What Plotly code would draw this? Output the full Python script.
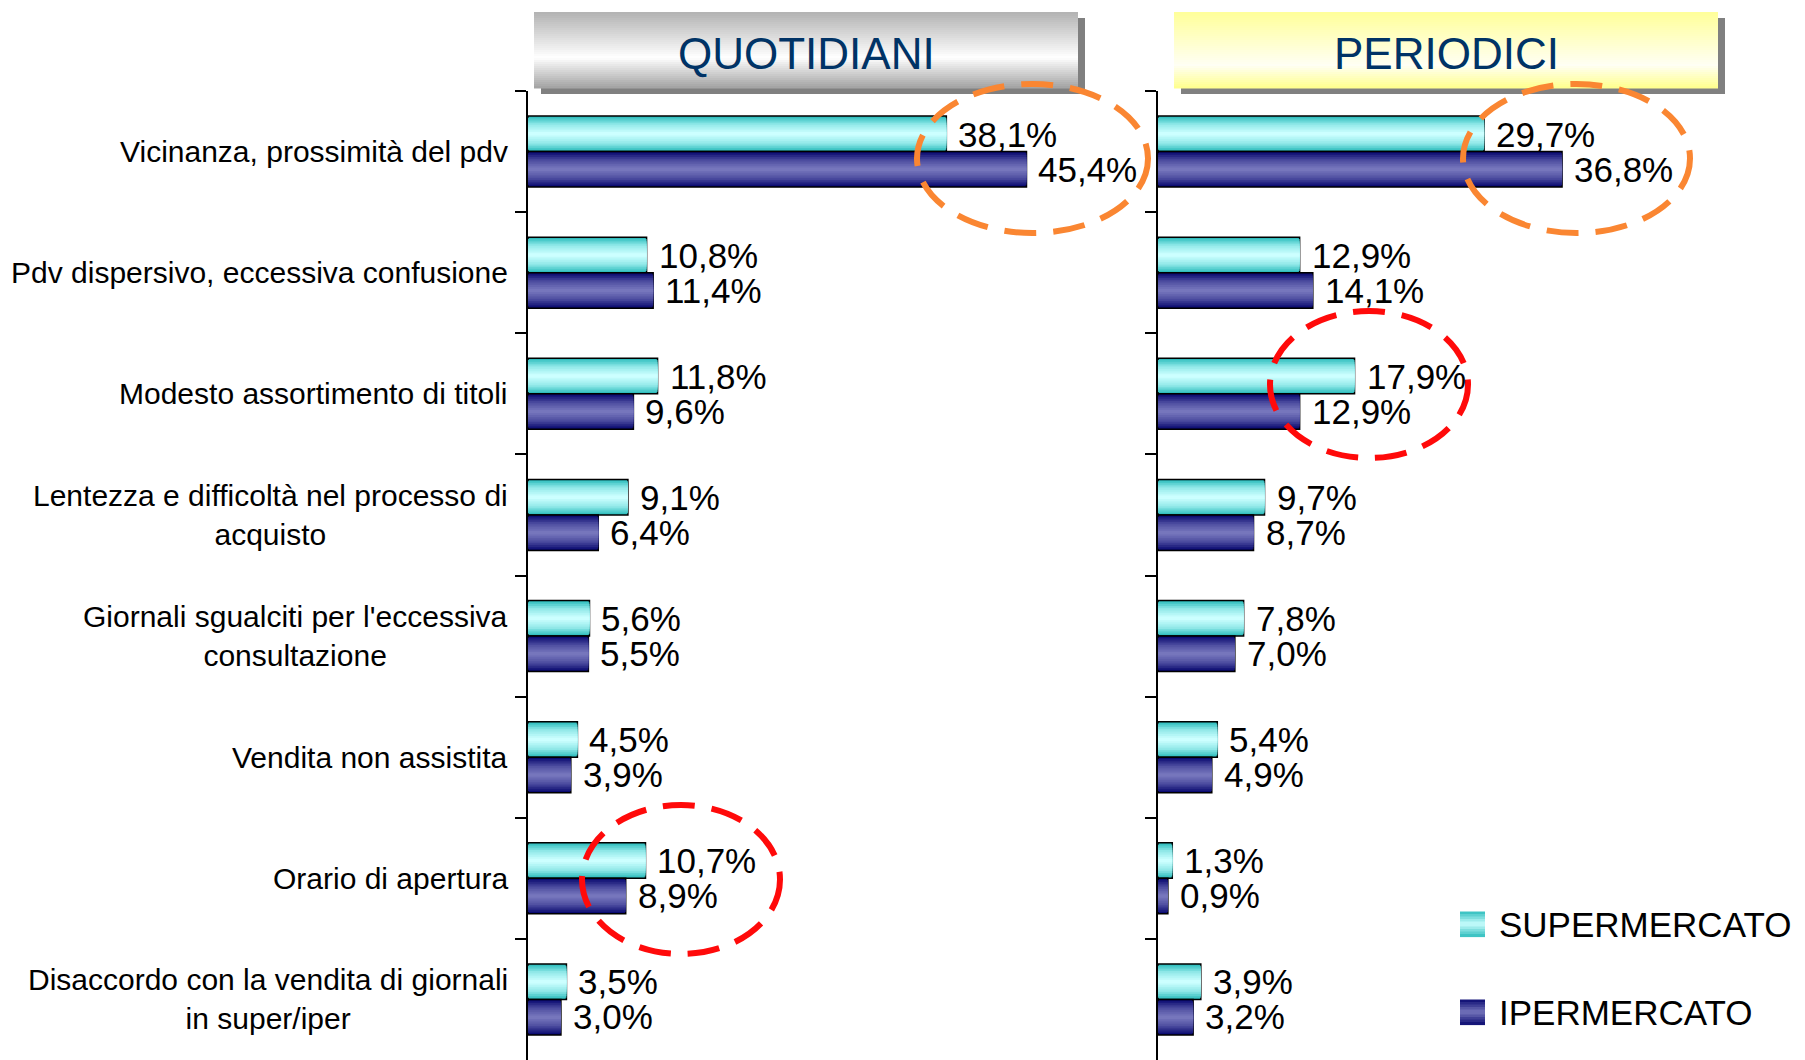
import plotly.graph_objects as go

# ---- data ----
categories = [
    "Vicinanza, prossimità del pdv",
    "Pdv dispersivo, eccessiva confusione",
    "Modesto assortimento di titoli",
    "Lentezza e difficoltà nel processo di<br>acquisto",
    "Giornali sgualciti per l'eccessiva<br>consultazione",
    "Vendita non assistita",
    "Orario di apertura",
    "Disaccordo con la vendita di giornali<br>in super/iper",
]
series_names = ["SUPERMERCATO", "IPERMERCATO"]
panel_titles = ["QUOTIDIANI", "PERIODICI"]

quotidiani_super = [38.1, 10.8, 11.8, 9.1, 5.6, 4.5, 10.7, 3.5]
quotidiani_iper = [45.4, 11.4, 9.6, 6.4, 5.5, 3.9, 8.9, 3.0]
periodici_super = [29.7, 12.9, 17.9, 9.7, 7.8, 5.4, 1.3, 3.9]
periodici_iper = [36.8, 14.1, 12.9, 8.7, 7.0, 4.9, 0.9, 3.2]

# ---- canvas geometry (pixels) ----
W, H = 1805, 1060
PX_PER_PCT = 10.98
LEFT_X0, LEFT_X1 = 528, 1150
RIGHT_X0, RIGHT_X1 = 1158, 1805
PLOT_TOP = 91

FONT = "Liberation Sans, Arial, sans-serif"


def px(x):
    return x / W


def py(y):
    return 1 - y / H


def hex_to_rgb(h):
    h = h.lstrip("#")
    return tuple(int(h[i:i + 2], 16) for i in (0, 2, 4))


def ramp(stops, t):
    for (p0, c0), (p1, c1) in zip(stops, stops[1:]):
        if t <= p1:
            f = 0 if p1 == p0 else (t - p0) / (p1 - p0)
            a, b = hex_to_rgb(c0), hex_to_rgb(c1)
            r = [round(a[i] + (b[i] - a[i]) * f) for i in range(3)]
            return "rgb(%d,%d,%d)" % tuple(r)
    return "rgb(%d,%d,%d)" % hex_to_rgb(stops[-1][1])


# bar shading: edge -> centre
CYAN_RAMP = [(0.0, "#2FBDBD"), (0.45, "#8FE8E8"), (1.0, "#CCFFFF")]
BLUE_RAMP = [(0.0, "#0A0A70"), (0.5, "#4E4EA0"), (1.0, "#7676BC")]
GRAY_RAMP = [(0.0, "#B2B2B2"), (0.6, "#FFFFFF"), (1.0, "#A2A2A2")]
YELLOW_RAMP = [(0.0, "#FFFF99"), (0.7, "#FFFFF4"), (1.0, "#FFFF8C")]

BAR_W = 0.293
N_LAYERS = 10

fig = go.Figure()

panels = [
    ("x", "y", quotidiani_super, quotidiani_iper),
    ("x2", "y2", periodici_super, periodici_iper),
]

annotations = []
shapes = []

for xa, ya, sup, ipr in panels:
    for s_idx, (vals, rmp) in enumerate([(sup, CYAN_RAMP), (ipr, BLUE_RAMP)]):
        centre = -BAR_W / 2 if s_idx == 0 else BAR_W / 2
        for k in range(N_LAYERS):
            frac = 1 - k / N_LAYERS
            w = BAR_W * frac
            t = k / (N_LAYERS - 1)
            fig.add_trace(go.Bar(
                x=vals, y=categories, orientation="h",
                width=w, offset=centre - w / 2,
                marker=dict(color=ramp(rmp, t),
                            line=dict(color="black", width=1.5 if k == 0 else 0)),
                name=series_names[s_idx], showlegend=False,
                hoverinfo="x+name" if k == 0 else "skip",
                xaxis=xa, yaxis=ya,
            ))
        for i, v in enumerate(vals):
            annotations.append(dict(
                x=v, y=i, xref=xa, yref=ya, xanchor="left", yanchor="middle",
                xshift=10, yshift=17.5 if s_idx == 0 else -17.5,
                text=("%.1f%%" % v).replace(".", ","), showarrow=False,
                font=dict(family=FONT, size=35, color="black"),
            ))

# category labels, centred lines, right-aligned block
for i, c in enumerate(categories):
    annotations.append(dict(
        x=px(510), y=i, xref="paper", yref="y", xanchor="right", yanchor="middle",
        text=c, align="center", showarrow=False,
        font=dict(family=FONT, size=30, color="black"),
    ))


def gradient_rect(x0, y0, x1, y1, stops, n):
    step = (y1 - y0) / n
    for j in range(n):
        t = (j + 0.5) / n
        shapes.append(dict(
            type="rect", xref="paper", yref="paper",
            x0=px(x0), x1=px(x1), y0=py(y0 + j * step), y1=py(y0 + (j + 1) * step + 0.6),
            fillcolor=ramp(stops, t), line=dict(width=0),
        ))


# panel headers
headers = [
    (534, 1078, GRAY_RAMP, panel_titles[0]),
    (1174, 1718, YELLOW_RAMP, panel_titles[1]),
]
for hx0, hx1, rmp, title in headers:
    shapes.append(dict(type="rect", xref="paper", yref="paper",
                       x0=px(hx0 + 7), x1=px(hx1 + 7), y0=py(18), y1=py(94),
                       fillcolor="#808080", line=dict(width=0)))
    gradient_rect(hx0, 12, hx1, 88, rmp, 38)
    annotations.append(dict(
        x=px((hx0 + hx1) / 2), y=py(53), xref="paper", yref="paper",
        xanchor="center", yanchor="middle", text=title, showarrow=False,
        font=dict(family=FONT, size=44, color="#003366"),
    ))

# highlight ellipses
ellipses = [
    (917, 84, 1148, 233, "#FA8632"),
    (1463, 84, 1690, 233, "#FA8632"),
    (1270, 311, 1468, 458, "#FF0A0A"),
    (582, 805, 780, 954, "#FF0A0A"),
]
for ex0, ey0, ex1, ey1, col in ellipses:
    shapes.append(dict(type="circle", xref="paper", yref="paper",
                       x0=px(ex0), x1=px(ex1), y0=py(ey1), y1=py(ey0),
                       line=dict(color=col, width=6, dash="32px,17px")))

# legend
legend_rows = [(924, CYAN_RAMP), (1012, BLUE_RAMP)]
for (cy, rmp), name in zip(legend_rows, series_names):
    sym = [(0.0, rmp[0][1]), (0.5, rmp[-1][1]), (1.0, rmp[0][1])]
    gradient_rect(1460, cy - 12.5, 1485, cy + 12.5, sym, 10)
    annotations.append(dict(
        x=px(1497), y=py(cy), xref="paper", yref="paper",
        xanchor="left", yanchor="middle", text=name, showarrow=False,
        font=dict(family=FONT, size=35, color="black"),
    ))

yaxis_style = dict(
    type="category", categoryorder="array", categoryarray=categories,
    range=[len(categories) - 0.5, -0.5],
    domain=[0, py(PLOT_TOP)],
    showline=True, linecolor="black", linewidth=2,
    ticks="outside", tickson="boundaries", ticklen=11, tickwidth=1.5,
    tickcolor="black", showticklabels=False, showgrid=False, zeroline=False,
    fixedrange=True,
)

fig.update_layout(
    width=W, height=H,
    margin=dict(l=0, r=0, t=0, b=0),
    paper_bgcolor="white", plot_bgcolor="white",
    barmode="overlay",
    showlegend=False,
    xaxis=dict(domain=[px(LEFT_X0), px(LEFT_X1)],
               range=[0, (LEFT_X1 - LEFT_X0) / PX_PER_PCT],
               visible=False, fixedrange=True),
    xaxis2=dict(domain=[px(RIGHT_X0), px(RIGHT_X1)],
                range=[0, (RIGHT_X1 - RIGHT_X0) / PX_PER_PCT],
                visible=False, fixedrange=True),
    yaxis=dict(anchor="x", **yaxis_style),
    yaxis2=dict(anchor="x2", **yaxis_style),
    annotations=annotations,
    shapes=shapes,
    font=dict(family=FONT),
)

fig.write_html("out.html")
